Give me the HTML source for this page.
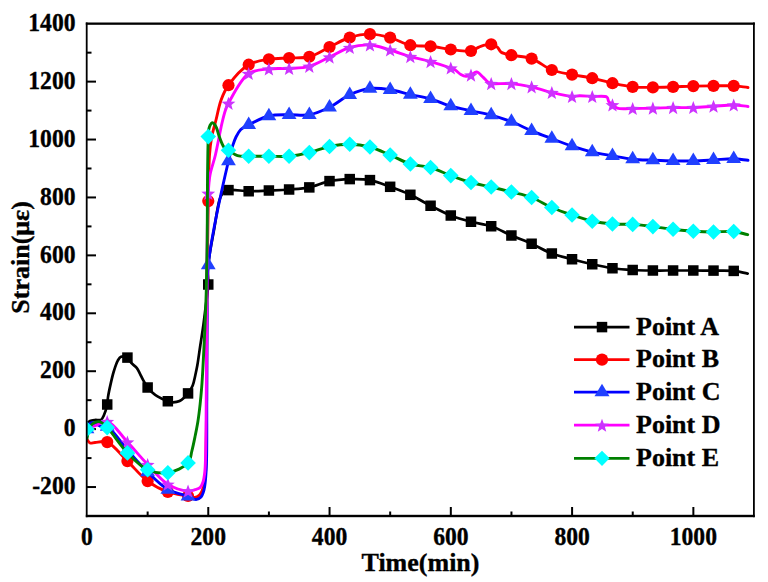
<!DOCTYPE html>
<html><head><meta charset="utf-8"><style>
html,body{margin:0;padding:0;background:#fff;}
body{width:768px;height:582px;overflow:hidden;}
svg{display:block;}
text{font-family:"Liberation Serif",serif;font-weight:bold;fill:#000;stroke:#000;stroke-width:0.35px;}
.tl{font-size:23.6px;}
.lg{font-size:26px;}
.at{font-size:26px;}
</style></head><body>
<svg width="768" height="582" viewBox="0 0 768 582">
<defs><clipPath id="pc"><rect x="86.70" y="23.70" width="667.30" height="492.30"/></clipPath></defs>
<line x1="87.00" y1="487.04" x2="96.00" y2="487.04" stroke="#000" stroke-width="2"/>
<line x1="87.00" y1="458.08" x2="91.50" y2="458.08" stroke="#000" stroke-width="2"/>
<line x1="87.00" y1="429.12" x2="96.00" y2="429.12" stroke="#000" stroke-width="2"/>
<line x1="87.00" y1="400.16" x2="91.50" y2="400.16" stroke="#000" stroke-width="2"/>
<line x1="87.00" y1="371.21" x2="96.00" y2="371.21" stroke="#000" stroke-width="2"/>
<line x1="87.00" y1="342.25" x2="91.50" y2="342.25" stroke="#000" stroke-width="2"/>
<line x1="87.00" y1="313.29" x2="96.00" y2="313.29" stroke="#000" stroke-width="2"/>
<line x1="87.00" y1="284.33" x2="91.50" y2="284.33" stroke="#000" stroke-width="2"/>
<line x1="87.00" y1="255.37" x2="96.00" y2="255.37" stroke="#000" stroke-width="2"/>
<line x1="87.00" y1="226.41" x2="91.50" y2="226.41" stroke="#000" stroke-width="2"/>
<line x1="87.00" y1="197.45" x2="96.00" y2="197.45" stroke="#000" stroke-width="2"/>
<line x1="87.00" y1="168.49" x2="91.50" y2="168.49" stroke="#000" stroke-width="2"/>
<line x1="87.00" y1="139.54" x2="96.00" y2="139.54" stroke="#000" stroke-width="2"/>
<line x1="87.00" y1="110.58" x2="91.50" y2="110.58" stroke="#000" stroke-width="2"/>
<line x1="87.00" y1="81.62" x2="96.00" y2="81.62" stroke="#000" stroke-width="2"/>
<line x1="87.00" y1="52.66" x2="91.50" y2="52.66" stroke="#000" stroke-width="2"/>
<line x1="147.64" y1="516.00" x2="147.64" y2="511.50" stroke="#000" stroke-width="2"/>
<line x1="208.27" y1="516.00" x2="208.27" y2="507.00" stroke="#000" stroke-width="2"/>
<line x1="268.91" y1="516.00" x2="268.91" y2="511.50" stroke="#000" stroke-width="2"/>
<line x1="329.55" y1="516.00" x2="329.55" y2="507.00" stroke="#000" stroke-width="2"/>
<line x1="390.18" y1="516.00" x2="390.18" y2="511.50" stroke="#000" stroke-width="2"/>
<line x1="450.82" y1="516.00" x2="450.82" y2="507.00" stroke="#000" stroke-width="2"/>
<line x1="511.45" y1="516.00" x2="511.45" y2="511.50" stroke="#000" stroke-width="2"/>
<line x1="572.09" y1="516.00" x2="572.09" y2="507.00" stroke="#000" stroke-width="2"/>
<line x1="632.73" y1="516.00" x2="632.73" y2="511.50" stroke="#000" stroke-width="2"/>
<line x1="693.36" y1="516.00" x2="693.36" y2="507.00" stroke="#000" stroke-width="2"/>
<g clip-path="url(#pc)">
<path d="M87.00,423.50 C88.00,422.67 88.79,421.58 90.00,421.00 C91.39,420.34 93.25,420.20 95.00,420.00 C96.90,419.78 99.49,420.67 101.00,419.80 C102.46,418.96 103.10,416.98 104.00,415.00 C105.26,412.24 106.55,407.72 107.21,404.50 C107.75,401.85 107.57,399.90 108.00,397.10 C108.57,393.36 109.62,388.43 110.60,384.10 C111.59,379.73 112.62,375.08 113.90,371.00 C115.06,367.30 116.33,363.15 117.80,360.60 C118.79,358.88 119.55,357.27 121.00,356.70 C122.65,356.06 125.69,356.56 127.42,357.60 C129.21,358.68 129.95,361.50 131.50,363.20 C133.05,364.90 135.29,366.04 136.70,367.80 C138.08,369.52 138.85,371.59 139.90,373.60 C141.01,375.72 141.97,377.97 143.20,380.20 C144.52,382.60 146.01,385.37 147.63,387.50 C149.08,389.41 150.63,391.00 152.30,392.50 C153.93,393.96 155.39,395.13 157.50,396.40 C160.29,398.08 164.92,400.29 167.84,401.25 C169.84,401.91 171.25,402.30 173.10,402.30 C175.15,402.30 177.44,402.08 179.60,401.00 C182.43,399.58 185.81,396.14 188.05,393.40 C190.06,390.94 191.51,388.40 192.70,385.50 C193.98,382.38 194.52,378.58 195.30,375.20 C196.05,371.95 196.63,369.35 197.30,365.60 C198.23,360.37 199.15,353.00 200.10,346.70 C201.05,340.40 202.12,334.11 203.00,327.80 C203.88,321.51 204.58,315.60 205.40,308.90 C206.33,301.29 207.93,291.59 208.26,284.50 C208.51,279.05 207.70,274.87 207.90,270.00 C208.10,265.04 208.70,260.62 209.50,255.00 C210.54,247.71 212.42,238.71 214.00,230.00 C215.73,220.45 217.51,206.28 219.50,200.00 C220.46,196.96 220.98,195.16 222.50,193.50 C223.99,191.88 225.77,190.73 228.47,190.10 C233.11,189.01 241.94,191.18 248.68,191.25 C255.42,191.32 262.15,190.79 268.89,190.50 C275.63,190.21 282.37,190.02 289.10,189.50 C295.84,188.98 302.64,188.77 309.31,187.40 C316.12,186.00 322.71,182.48 329.52,181.10 C336.19,179.75 342.99,179.27 349.73,179.10 C356.46,178.93 363.29,178.86 369.94,180.10 C376.76,181.38 383.45,184.36 390.15,186.80 C396.92,189.26 403.71,191.70 410.36,194.80 C417.19,197.99 423.79,202.28 430.57,205.75 C437.27,209.18 443.94,212.81 450.78,215.50 C457.42,218.11 464.22,219.95 470.99,221.75 C477.69,223.53 484.58,224.03 491.20,226.25 C498.06,228.56 504.64,232.57 511.41,235.50 C518.12,238.40 524.93,240.77 531.62,243.75 C538.40,246.77 544.98,250.90 551.83,253.50 C558.46,256.02 565.29,257.45 572.04,259.25 C578.76,261.04 585.50,262.75 592.25,264.25 C598.97,265.75 605.70,267.29 612.46,268.25 C619.17,269.20 625.93,269.63 632.67,270.00 C639.40,270.37 646.14,270.42 652.88,270.50 C659.62,270.58 666.35,270.50 673.09,270.50 C679.83,270.50 686.56,270.48 693.30,270.50 C700.04,270.52 706.77,270.53 713.51,270.60 C720.25,270.67 727.63,270.27 733.72,270.90 C738.83,271.43 743.04,272.70 747.70,273.60" fill="none" stroke="#000000" stroke-width="2.70" stroke-linejoin="round" stroke-linecap="round"/>
<rect x="101.96" y="399.25" width="10.50" height="10.50" fill="#000"/>
<rect x="122.17" y="352.35" width="10.50" height="10.50" fill="#000"/>
<rect x="142.38" y="382.25" width="10.50" height="10.50" fill="#000"/>
<rect x="162.59" y="396.00" width="10.50" height="10.50" fill="#000"/>
<rect x="182.80" y="388.15" width="10.50" height="10.50" fill="#000"/>
<rect x="203.01" y="279.25" width="10.50" height="10.50" fill="#000"/>
<rect x="223.22" y="184.85" width="10.50" height="10.50" fill="#000"/>
<rect x="243.43" y="186.00" width="10.50" height="10.50" fill="#000"/>
<rect x="263.64" y="185.25" width="10.50" height="10.50" fill="#000"/>
<rect x="283.85" y="184.25" width="10.50" height="10.50" fill="#000"/>
<rect x="304.06" y="182.15" width="10.50" height="10.50" fill="#000"/>
<rect x="324.27" y="175.85" width="10.50" height="10.50" fill="#000"/>
<rect x="344.48" y="173.85" width="10.50" height="10.50" fill="#000"/>
<rect x="364.69" y="174.85" width="10.50" height="10.50" fill="#000"/>
<rect x="384.90" y="181.55" width="10.50" height="10.50" fill="#000"/>
<rect x="405.11" y="189.55" width="10.50" height="10.50" fill="#000"/>
<rect x="425.32" y="200.50" width="10.50" height="10.50" fill="#000"/>
<rect x="445.53" y="210.25" width="10.50" height="10.50" fill="#000"/>
<rect x="465.74" y="216.50" width="10.50" height="10.50" fill="#000"/>
<rect x="485.95" y="221.00" width="10.50" height="10.50" fill="#000"/>
<rect x="506.16" y="230.25" width="10.50" height="10.50" fill="#000"/>
<rect x="526.37" y="238.50" width="10.50" height="10.50" fill="#000"/>
<rect x="546.58" y="248.25" width="10.50" height="10.50" fill="#000"/>
<rect x="566.79" y="254.00" width="10.50" height="10.50" fill="#000"/>
<rect x="587.00" y="259.00" width="10.50" height="10.50" fill="#000"/>
<rect x="607.21" y="263.00" width="10.50" height="10.50" fill="#000"/>
<rect x="627.42" y="264.75" width="10.50" height="10.50" fill="#000"/>
<rect x="647.63" y="265.25" width="10.50" height="10.50" fill="#000"/>
<rect x="667.84" y="265.25" width="10.50" height="10.50" fill="#000"/>
<rect x="688.05" y="265.25" width="10.50" height="10.50" fill="#000"/>
<rect x="708.26" y="265.35" width="10.50" height="10.50" fill="#000"/>
<rect x="728.47" y="265.65" width="10.50" height="10.50" fill="#000"/>
<path d="M87.00,439.50 C88.00,440.67 88.71,442.48 90.00,443.00 C91.35,443.54 92.96,442.63 95.00,442.50 C98.17,442.29 102.98,440.50 107.21,442.10 C113.58,444.51 120.72,454.64 127.42,461.10 C134.20,467.64 140.49,475.82 147.63,481.10 C154.04,485.85 160.91,489.51 167.84,492.00 C174.40,494.36 183.07,494.97 188.05,496.00 C190.97,496.60 192.93,497.84 195.00,497.50 C196.87,497.19 198.65,496.00 200.00,494.50 C201.61,492.71 202.63,489.81 203.50,487.00 C204.50,483.74 204.85,480.74 205.30,476.00 C206.10,467.48 205.98,452.32 206.20,440.00 C206.43,427.02 206.49,416.34 206.60,400.00 C206.78,374.17 206.72,333.24 207.00,300.00 C207.28,266.94 207.73,227.85 208.26,201.10 C208.62,182.83 208.66,166.60 209.50,155.00 C210.01,147.93 210.45,143.71 211.50,138.00 C212.59,132.05 214.45,126.16 216.00,120.00 C217.64,113.51 218.85,106.06 221.10,100.00 C223.11,94.58 224.87,90.24 228.47,85.20 C233.22,78.55 241.32,68.99 248.68,64.70 C254.96,61.04 262.10,60.36 268.89,59.25 C275.57,58.15 282.36,58.42 289.10,58.00 C295.84,57.58 302.74,58.47 309.31,56.75 C316.23,54.94 322.78,50.21 329.52,47.00 C336.25,43.80 342.84,39.64 349.73,37.50 C356.33,35.45 363.20,34.13 369.94,34.15 C376.68,34.17 383.50,35.80 390.15,37.60 C396.98,39.45 403.51,43.76 410.36,45.20 C416.99,46.59 423.85,45.59 430.57,46.30 C437.33,47.02 444.03,48.72 450.78,49.50 C457.50,50.28 465.88,51.98 470.99,51.00 C474.38,50.35 476.58,48.12 479.00,47.10 C480.92,46.29 482.39,45.66 484.30,45.20 C486.42,44.69 489.02,43.97 491.20,44.30 C493.35,44.62 495.63,45.75 497.30,47.10 C498.95,48.43 499.30,51.00 501.20,52.30 C503.63,53.97 507.40,54.30 511.41,55.20 C516.98,56.46 525.08,56.29 531.62,58.60 C538.58,61.06 544.89,67.32 551.83,70.00 C558.39,72.53 565.29,73.23 572.04,74.60 C578.76,75.96 585.54,76.77 592.25,78.20 C599.01,79.64 605.70,81.75 612.46,83.20 C619.17,84.64 625.91,86.20 632.67,86.90 C639.38,87.59 646.14,87.40 652.88,87.40 C659.62,87.40 666.35,87.12 673.09,86.90 C679.83,86.68 686.56,86.27 693.30,86.10 C700.04,85.93 706.77,85.93 713.51,85.90 C720.25,85.87 727.58,85.56 733.72,85.90 C738.90,86.19 743.24,86.97 748.00,87.50" fill="none" stroke="#ff0000" stroke-width="2.90" stroke-linejoin="round" stroke-linecap="round"/>
<circle cx="107.21" cy="442.10" r="6.10" fill="#f00"/>
<circle cx="127.42" cy="461.10" r="6.10" fill="#f00"/>
<circle cx="147.63" cy="481.10" r="6.10" fill="#f00"/>
<circle cx="167.84" cy="492.00" r="6.10" fill="#f00"/>
<circle cx="188.05" cy="496.00" r="6.10" fill="#f00"/>
<circle cx="208.26" cy="201.10" r="6.10" fill="#f00"/>
<circle cx="228.47" cy="85.20" r="6.10" fill="#f00"/>
<circle cx="248.68" cy="64.70" r="6.10" fill="#f00"/>
<circle cx="268.89" cy="59.25" r="6.10" fill="#f00"/>
<circle cx="289.10" cy="58.00" r="6.10" fill="#f00"/>
<circle cx="309.31" cy="56.75" r="6.10" fill="#f00"/>
<circle cx="329.52" cy="47.00" r="6.10" fill="#f00"/>
<circle cx="349.73" cy="37.50" r="6.10" fill="#f00"/>
<circle cx="369.94" cy="34.15" r="6.10" fill="#f00"/>
<circle cx="390.15" cy="37.60" r="6.10" fill="#f00"/>
<circle cx="410.36" cy="45.20" r="6.10" fill="#f00"/>
<circle cx="430.57" cy="46.30" r="6.10" fill="#f00"/>
<circle cx="450.78" cy="49.50" r="6.10" fill="#f00"/>
<circle cx="470.99" cy="51.00" r="6.10" fill="#f00"/>
<circle cx="491.20" cy="44.30" r="6.10" fill="#f00"/>
<circle cx="511.41" cy="55.20" r="6.10" fill="#f00"/>
<circle cx="531.62" cy="58.60" r="6.10" fill="#f00"/>
<circle cx="551.83" cy="70.00" r="6.10" fill="#f00"/>
<circle cx="572.04" cy="74.60" r="6.10" fill="#f00"/>
<circle cx="592.25" cy="78.20" r="6.10" fill="#f00"/>
<circle cx="612.46" cy="83.20" r="6.10" fill="#f00"/>
<circle cx="632.67" cy="86.90" r="6.10" fill="#f00"/>
<circle cx="652.88" cy="87.40" r="6.10" fill="#f00"/>
<circle cx="673.09" cy="86.90" r="6.10" fill="#f00"/>
<circle cx="693.30" cy="86.10" r="6.10" fill="#f00"/>
<circle cx="713.51" cy="85.90" r="6.10" fill="#f00"/>
<circle cx="733.72" cy="85.90" r="6.10" fill="#f00"/>
<path d="M87.00,429.00 C87.83,427.33 88.46,425.02 89.50,424.00 C90.23,423.28 91.05,422.87 92.00,422.80 C93.16,422.71 94.69,423.48 96.00,424.00 C97.36,424.54 98.42,425.57 100.00,426.00 C102.01,426.55 104.53,425.16 107.21,426.50 C112.76,429.28 120.62,442.35 127.42,450.00 C134.10,457.51 140.70,465.27 147.63,472.00 C154.19,478.37 160.68,485.41 167.84,489.50 C174.24,493.16 182.88,494.39 188.05,496.30 C191.33,497.51 193.67,499.59 196.00,499.50 C197.88,499.42 199.71,498.37 201.00,497.00 C202.51,495.40 203.21,493.01 204.00,490.00 C205.29,485.11 205.69,478.71 206.20,470.00 C207.16,453.76 206.65,424.11 206.80,400.00 C206.96,374.22 206.80,344.17 207.10,320.00 C207.35,299.95 206.00,286.12 208.26,265.00 C211.39,235.69 224.01,180.04 228.47,161.00 C230.18,153.70 231.19,150.34 232.60,146.00 C233.71,142.59 234.60,139.80 236.00,137.00 C237.35,134.31 238.71,131.53 240.80,129.50 C242.92,127.43 245.38,126.45 248.68,124.75 C253.79,122.12 262.01,117.65 268.89,116.00 C275.49,114.42 282.36,114.96 289.10,114.75 C295.83,114.54 302.68,115.94 309.31,114.75 C316.16,113.52 322.94,110.47 329.52,107.25 C336.43,103.87 342.79,97.91 349.73,94.75 C356.28,91.77 363.13,89.32 369.94,88.50 C376.60,87.70 383.46,88.76 390.15,89.75 C396.93,90.76 403.61,93.04 410.36,94.55 C417.09,96.06 423.90,96.90 430.57,98.80 C437.37,100.73 443.98,104.09 450.78,106.10 C457.46,108.08 464.25,109.31 470.99,110.80 C477.72,112.29 484.51,113.25 491.20,115.05 C497.99,116.87 504.74,119.11 511.41,121.70 C518.22,124.34 524.85,127.96 531.62,130.80 C538.32,133.61 545.08,136.08 551.83,138.65 C558.56,141.21 565.26,143.96 572.04,146.20 C578.73,148.42 585.47,150.44 592.25,152.05 C598.95,153.64 605.72,154.61 612.46,155.80 C619.19,156.99 625.91,158.47 632.67,159.20 C639.39,159.93 646.14,159.92 652.88,160.20 C659.62,160.48 666.35,160.78 673.09,160.90 C679.83,161.02 686.57,161.06 693.30,160.90 C700.04,160.74 706.77,160.30 713.51,159.95 C720.25,159.60 727.57,158.65 733.72,158.80 C738.90,158.92 743.24,159.80 748.00,160.30" fill="none" stroke="#0000ff" stroke-width="2.90" stroke-linejoin="round" stroke-linecap="round"/>
<polygon points="87.00,420.67 79.60,433.17 94.40,433.17" fill="#2040ff"/>
<polygon points="107.21,418.17 99.81,430.67 114.61,430.67" fill="#2040ff"/>
<polygon points="127.42,441.67 120.02,454.17 134.82,454.17" fill="#2040ff"/>
<polygon points="147.63,463.67 140.23,476.17 155.03,476.17" fill="#2040ff"/>
<polygon points="167.84,481.17 160.44,493.67 175.24,493.67" fill="#2040ff"/>
<polygon points="188.05,487.97 180.65,500.47 195.45,500.47" fill="#2040ff"/>
<polygon points="208.26,256.67 200.86,269.17 215.66,269.17" fill="#2040ff"/>
<polygon points="228.47,152.67 221.07,165.17 235.87,165.17" fill="#2040ff"/>
<polygon points="248.68,116.42 241.28,128.92 256.08,128.92" fill="#2040ff"/>
<polygon points="268.89,107.67 261.49,120.17 276.29,120.17" fill="#2040ff"/>
<polygon points="289.10,106.42 281.70,118.92 296.50,118.92" fill="#2040ff"/>
<polygon points="309.31,106.42 301.91,118.92 316.71,118.92" fill="#2040ff"/>
<polygon points="329.52,98.92 322.12,111.42 336.92,111.42" fill="#2040ff"/>
<polygon points="349.73,86.42 342.33,98.92 357.13,98.92" fill="#2040ff"/>
<polygon points="369.94,80.17 362.54,92.67 377.34,92.67" fill="#2040ff"/>
<polygon points="390.15,81.42 382.75,93.92 397.55,93.92" fill="#2040ff"/>
<polygon points="410.36,86.22 402.96,98.72 417.76,98.72" fill="#2040ff"/>
<polygon points="430.57,90.47 423.17,102.97 437.97,102.97" fill="#2040ff"/>
<polygon points="450.78,97.77 443.38,110.27 458.18,110.27" fill="#2040ff"/>
<polygon points="470.99,102.47 463.59,114.97 478.39,114.97" fill="#2040ff"/>
<polygon points="491.20,106.72 483.80,119.22 498.60,119.22" fill="#2040ff"/>
<polygon points="511.41,113.37 504.01,125.87 518.81,125.87" fill="#2040ff"/>
<polygon points="531.62,122.47 524.22,134.97 539.02,134.97" fill="#2040ff"/>
<polygon points="551.83,130.32 544.43,142.82 559.23,142.82" fill="#2040ff"/>
<polygon points="572.04,137.87 564.64,150.37 579.44,150.37" fill="#2040ff"/>
<polygon points="592.25,143.72 584.85,156.22 599.65,156.22" fill="#2040ff"/>
<polygon points="612.46,147.47 605.06,159.97 619.86,159.97" fill="#2040ff"/>
<polygon points="632.67,150.87 625.27,163.37 640.07,163.37" fill="#2040ff"/>
<polygon points="652.88,151.87 645.48,164.37 660.28,164.37" fill="#2040ff"/>
<polygon points="673.09,152.57 665.69,165.07 680.49,165.07" fill="#2040ff"/>
<polygon points="693.30,152.57 685.90,165.07 700.70,165.07" fill="#2040ff"/>
<polygon points="713.51,151.62 706.11,164.12 720.91,164.12" fill="#2040ff"/>
<polygon points="733.72,150.47 726.32,162.97 741.12,162.97" fill="#2040ff"/>
<path d="M87.00,427.00 C89.43,426.67 91.56,426.66 94.30,426.00 C98.03,425.10 102.77,420.47 107.21,421.50 C113.66,423.00 120.76,434.93 127.42,442.00 C134.24,449.25 140.77,457.36 147.63,464.50 C154.25,471.40 160.56,479.75 167.84,484.20 C174.17,488.07 183.04,490.68 188.05,491.00 C190.94,491.18 192.90,490.23 195.00,489.60 C196.83,489.05 198.69,488.77 200.00,487.60 C201.42,486.33 202.23,484.21 203.00,482.00 C203.97,479.21 204.37,475.79 204.80,472.00 C205.35,467.10 205.40,461.68 205.60,455.00 C205.89,445.42 205.96,434.04 206.10,420.00 C206.32,398.77 206.45,366.67 206.60,340.00 C206.75,313.33 206.70,285.44 207.00,260.00 C207.28,236.78 207.39,208.69 208.26,193.40 C208.72,185.35 208.88,181.21 210.00,175.00 C211.19,168.42 213.62,162.48 215.40,155.00 C217.63,145.61 220.03,131.28 222.00,123.00 C223.26,117.68 224.23,113.58 225.50,110.00 C226.44,107.36 226.84,106.23 228.47,103.30 C232.08,96.80 240.72,78.92 248.68,73.50 C254.71,69.39 262.11,69.79 268.89,68.95 C275.59,68.12 282.37,68.88 289.10,68.45 C295.85,68.02 302.72,68.15 309.31,66.35 C316.20,64.47 322.79,60.24 329.52,57.10 C336.27,53.95 342.83,49.51 349.73,47.50 C356.32,45.58 363.24,44.60 369.94,45.00 C376.71,45.41 383.45,48.08 390.15,50.00 C396.92,51.94 403.59,54.66 410.36,56.60 C417.06,58.52 423.86,59.71 430.57,61.60 C437.34,63.51 446.82,66.64 450.78,68.00 C452.45,68.57 453.01,68.57 454.30,69.30 C456.22,70.38 458.66,73.29 460.80,74.50 C462.55,75.48 464.27,76.32 466.00,76.40 C467.67,76.48 469.33,75.78 470.99,75.10 C472.83,74.34 474.64,71.76 476.50,71.90 C478.63,72.06 481.00,75.31 483.00,77.10 C484.88,78.78 486.61,81.22 488.20,82.30 C489.26,83.02 489.71,83.29 491.20,83.60 C494.91,84.37 504.69,83.07 511.41,83.60 C518.17,84.13 524.93,85.33 531.62,86.80 C538.40,88.29 545.06,90.88 551.83,92.50 C558.53,94.11 566.93,96.24 572.04,96.50 C575.12,96.66 576.68,95.85 579.50,95.80 C583.18,95.73 587.85,96.29 592.25,96.50 C596.96,96.73 604.42,95.36 606.90,97.10 C608.35,98.11 607.86,100.40 608.80,101.70 C609.72,102.99 611.12,103.86 612.46,104.90 C613.93,106.04 615.39,107.53 617.30,108.20 C619.51,108.97 622.52,108.75 625.10,108.80 C627.64,108.85 629.54,108.59 632.67,108.50 C637.78,108.36 646.14,108.35 652.88,108.20 C659.62,108.05 666.35,107.72 673.09,107.60 C679.83,107.48 686.57,107.72 693.30,107.50 C700.04,107.28 706.77,106.67 713.51,106.25 C720.25,105.83 727.57,104.87 733.72,105.00 C738.90,105.11 743.24,106.00 748.00,106.50" fill="none" stroke="#ff00ff" stroke-width="2.90" stroke-linejoin="round" stroke-linecap="round"/>
<polygon points="107.21,414.89 109.01,419.71 114.15,419.94 110.13,423.14 111.50,428.10 107.21,425.26 102.92,428.10 104.29,423.14 100.27,419.94 105.41,419.71" fill="#cc33ff"/>
<polygon points="127.42,435.39 129.22,440.21 134.36,440.44 130.34,443.64 131.71,448.60 127.42,445.76 123.13,448.60 124.50,443.64 120.48,440.44 125.62,440.21" fill="#cc33ff"/>
<polygon points="147.63,457.89 149.43,462.71 154.57,462.94 150.55,466.14 151.92,471.10 147.63,468.26 143.34,471.10 144.71,466.14 140.69,462.94 145.83,462.71" fill="#cc33ff"/>
<polygon points="167.84,477.59 169.64,482.41 174.78,482.64 170.76,485.84 172.13,490.80 167.84,487.96 163.55,490.80 164.92,485.84 160.90,482.64 166.04,482.41" fill="#cc33ff"/>
<polygon points="188.05,484.39 189.85,489.21 194.99,489.44 190.97,492.64 192.34,497.60 188.05,494.76 183.76,497.60 185.13,492.64 181.11,489.44 186.25,489.21" fill="#cc33ff"/>
<polygon points="208.26,186.79 210.06,191.61 215.20,191.84 211.18,195.04 212.55,200.00 208.26,197.16 203.97,200.00 205.34,195.04 201.32,191.84 206.46,191.61" fill="#cc33ff"/>
<polygon points="228.47,96.69 230.27,101.51 235.41,101.74 231.39,104.94 232.76,109.90 228.47,107.06 224.18,109.90 225.55,104.94 221.53,101.74 226.67,101.51" fill="#cc33ff"/>
<polygon points="248.68,66.89 250.48,71.71 255.62,71.94 251.60,75.14 252.97,80.10 248.68,77.26 244.39,80.10 245.76,75.14 241.74,71.94 246.88,71.71" fill="#cc33ff"/>
<polygon points="268.89,62.34 270.69,67.16 275.83,67.39 271.81,70.59 273.18,75.55 268.89,72.71 264.60,75.55 265.97,70.59 261.95,67.39 267.09,67.16" fill="#cc33ff"/>
<polygon points="289.10,61.84 290.90,66.66 296.04,66.89 292.02,70.09 293.39,75.05 289.10,72.21 284.81,75.05 286.18,70.09 282.16,66.89 287.30,66.66" fill="#cc33ff"/>
<polygon points="309.31,59.74 311.11,64.56 316.25,64.79 312.23,67.99 313.60,72.95 309.31,70.11 305.02,72.95 306.39,67.99 302.37,64.79 307.51,64.56" fill="#cc33ff"/>
<polygon points="329.52,50.49 331.32,55.31 336.46,55.54 332.44,58.74 333.81,63.70 329.52,60.86 325.23,63.70 326.60,58.74 322.58,55.54 327.72,55.31" fill="#cc33ff"/>
<polygon points="349.73,40.89 351.53,45.71 356.67,45.94 352.65,49.14 354.02,54.10 349.73,51.26 345.44,54.10 346.81,49.14 342.79,45.94 347.93,45.71" fill="#cc33ff"/>
<polygon points="369.94,38.39 371.74,43.21 376.88,43.44 372.86,46.64 374.23,51.60 369.94,48.76 365.65,51.60 367.02,46.64 363.00,43.44 368.14,43.21" fill="#cc33ff"/>
<polygon points="390.15,43.39 391.95,48.21 397.09,48.44 393.07,51.64 394.44,56.60 390.15,53.76 385.86,56.60 387.23,51.64 383.21,48.44 388.35,48.21" fill="#cc33ff"/>
<polygon points="410.36,49.99 412.16,54.81 417.30,55.04 413.28,58.24 414.65,63.20 410.36,60.36 406.07,63.20 407.44,58.24 403.42,55.04 408.56,54.81" fill="#cc33ff"/>
<polygon points="430.57,54.99 432.37,59.81 437.51,60.04 433.49,63.24 434.86,68.20 430.57,65.36 426.28,68.20 427.65,63.24 423.63,60.04 428.77,59.81" fill="#cc33ff"/>
<polygon points="450.78,61.39 452.58,66.21 457.72,66.44 453.70,69.64 455.07,74.60 450.78,71.76 446.49,74.60 447.86,69.64 443.84,66.44 448.98,66.21" fill="#cc33ff"/>
<polygon points="470.99,68.49 472.79,73.31 477.93,73.54 473.91,76.74 475.28,81.70 470.99,78.86 466.70,81.70 468.07,76.74 464.05,73.54 469.19,73.31" fill="#cc33ff"/>
<polygon points="491.20,76.99 493.00,81.81 498.14,82.04 494.12,85.24 495.49,90.20 491.20,87.36 486.91,90.20 488.28,85.24 484.26,82.04 489.40,81.81" fill="#cc33ff"/>
<polygon points="511.41,76.99 513.21,81.81 518.35,82.04 514.33,85.24 515.70,90.20 511.41,87.36 507.12,90.20 508.49,85.24 504.47,82.04 509.61,81.81" fill="#cc33ff"/>
<polygon points="531.62,80.19 533.42,85.01 538.56,85.24 534.54,88.44 535.91,93.40 531.62,90.56 527.33,93.40 528.70,88.44 524.68,85.24 529.82,85.01" fill="#cc33ff"/>
<polygon points="551.83,85.89 553.63,90.71 558.77,90.94 554.75,94.14 556.12,99.10 551.83,96.26 547.54,99.10 548.91,94.14 544.89,90.94 550.03,90.71" fill="#cc33ff"/>
<polygon points="572.04,89.89 573.84,94.71 578.98,94.94 574.96,98.14 576.33,103.10 572.04,100.26 567.75,103.10 569.12,98.14 565.10,94.94 570.24,94.71" fill="#cc33ff"/>
<polygon points="592.25,89.89 594.05,94.71 599.19,94.94 595.17,98.14 596.54,103.10 592.25,100.26 587.96,103.10 589.33,98.14 585.31,94.94 590.45,94.71" fill="#cc33ff"/>
<polygon points="612.46,98.29 614.26,103.11 619.40,103.34 615.38,106.54 616.75,111.50 612.46,108.66 608.17,111.50 609.54,106.54 605.52,103.34 610.66,103.11" fill="#cc33ff"/>
<polygon points="632.67,101.89 634.47,106.71 639.61,106.94 635.59,110.14 636.96,115.10 632.67,112.26 628.38,115.10 629.75,110.14 625.73,106.94 630.87,106.71" fill="#cc33ff"/>
<polygon points="652.88,101.59 654.68,106.41 659.82,106.64 655.80,109.84 657.17,114.80 652.88,111.96 648.59,114.80 649.96,109.84 645.94,106.64 651.08,106.41" fill="#cc33ff"/>
<polygon points="673.09,100.99 674.89,105.81 680.03,106.04 676.01,109.24 677.38,114.20 673.09,111.36 668.80,114.20 670.17,109.24 666.15,106.04 671.29,105.81" fill="#cc33ff"/>
<polygon points="693.30,100.89 695.10,105.71 700.24,105.94 696.22,109.14 697.59,114.10 693.30,111.26 689.01,114.10 690.38,109.14 686.36,105.94 691.50,105.71" fill="#cc33ff"/>
<polygon points="713.51,99.64 715.31,104.46 720.45,104.69 716.43,107.89 717.80,112.85 713.51,110.01 709.22,112.85 710.59,107.89 706.57,104.69 711.71,104.46" fill="#cc33ff"/>
<polygon points="733.72,98.39 735.52,103.21 740.66,103.44 736.64,106.64 738.01,111.60 733.72,108.76 729.43,111.60 730.80,106.64 726.78,103.44 731.92,103.21" fill="#cc33ff"/>
<path d="M87.00,438.50 C87.83,435.00 88.22,430.67 89.50,428.00 C90.43,426.06 91.41,424.53 93.00,423.50 C94.79,422.34 97.77,421.30 100.00,421.80 C102.53,422.37 104.39,424.77 107.21,427.60 C112.49,432.89 120.29,445.63 127.42,452.90 C133.84,459.45 140.41,466.47 147.63,469.70 C153.99,472.55 161.26,473.71 167.84,472.70 C174.74,471.64 184.18,467.36 188.05,462.90 C190.96,459.54 190.74,455.11 191.90,450.80 C193.19,445.98 194.28,440.32 195.30,435.30 C196.26,430.57 197.13,426.36 197.90,421.50 C198.75,416.12 199.47,410.11 200.10,404.40 C200.73,398.68 201.25,392.94 201.70,387.20 C202.15,381.47 202.41,376.93 202.80,370.00 C203.40,359.44 204.22,343.34 204.80,330.00 C205.38,316.67 205.91,304.08 206.30,290.00 C206.74,274.26 207.00,257.43 207.20,240.00 C207.42,220.91 207.29,198.38 207.50,180.00 C207.68,164.36 207.92,144.72 208.26,136.60 C208.39,133.43 208.34,132.00 208.70,130.00 C209.01,128.28 209.42,126.57 210.10,125.30 C210.66,124.27 211.43,122.91 212.20,122.80 C212.91,122.70 213.83,123.59 214.50,124.30 C215.31,125.16 215.87,126.35 216.50,127.80 C217.41,129.89 218.12,133.25 219.00,135.80 C219.82,138.17 220.67,140.54 221.60,142.60 C222.42,144.39 223.01,146.22 224.20,147.50 C225.33,148.72 226.78,149.16 228.47,150.20 C230.92,151.70 234.19,154.58 237.50,155.60 C240.91,156.65 244.40,156.13 248.68,156.25 C254.42,156.42 262.15,156.25 268.89,156.25 C275.63,156.25 282.39,156.85 289.10,156.25 C295.86,155.64 302.62,154.21 309.31,152.60 C316.09,150.97 322.72,147.90 329.52,146.50 C336.20,145.12 343.00,144.12 349.73,144.20 C356.47,144.28 363.31,145.25 369.94,147.00 C376.79,148.80 383.44,152.18 390.15,155.00 C396.92,157.84 403.49,161.91 410.36,164.00 C416.97,166.01 423.93,165.62 430.57,167.50 C437.41,169.44 444.01,173.09 450.78,175.60 C457.48,178.09 464.20,180.59 470.99,182.50 C477.68,184.38 484.47,185.42 491.20,187.00 C497.95,188.59 504.68,190.25 511.41,192.00 C518.16,193.75 525.00,194.99 531.62,197.50 C538.49,200.10 545.02,204.56 551.83,207.50 C558.49,210.38 565.27,212.71 572.04,215.00 C578.74,217.27 585.45,219.70 592.25,221.20 C598.93,222.68 605.71,223.47 612.46,224.00 C619.18,224.53 625.94,223.97 632.67,224.40 C639.42,224.83 646.15,225.79 652.88,226.60 C659.62,227.41 666.35,228.48 673.09,229.25 C679.82,230.02 686.56,230.74 693.30,231.20 C700.03,231.66 706.77,231.95 713.51,232.00 C720.25,232.05 727.64,230.89 733.72,231.50 C738.84,232.01 743.04,233.63 747.70,234.70" fill="none" stroke="#008000" stroke-width="2.90" stroke-linejoin="round" stroke-linecap="round"/>
<polygon points="87.00,421.50 94.80,429.30 87.00,437.10 79.20,429.30" fill="#00ffff"/>
<polygon points="107.21,419.80 115.01,427.60 107.21,435.40 99.41,427.60" fill="#00ffff"/>
<polygon points="127.42,445.10 135.22,452.90 127.42,460.70 119.62,452.90" fill="#00ffff"/>
<polygon points="147.63,461.90 155.43,469.70 147.63,477.50 139.83,469.70" fill="#00ffff"/>
<polygon points="167.84,464.90 175.64,472.70 167.84,480.50 160.04,472.70" fill="#00ffff"/>
<polygon points="188.05,455.10 195.85,462.90 188.05,470.70 180.25,462.90" fill="#00ffff"/>
<polygon points="208.26,128.80 216.06,136.60 208.26,144.40 200.46,136.60" fill="#00ffff"/>
<polygon points="228.47,142.40 236.27,150.20 228.47,158.00 220.67,150.20" fill="#00ffff"/>
<polygon points="248.68,148.45 256.48,156.25 248.68,164.05 240.88,156.25" fill="#00ffff"/>
<polygon points="268.89,148.45 276.69,156.25 268.89,164.05 261.09,156.25" fill="#00ffff"/>
<polygon points="289.10,148.45 296.90,156.25 289.10,164.05 281.30,156.25" fill="#00ffff"/>
<polygon points="309.31,144.80 317.11,152.60 309.31,160.40 301.51,152.60" fill="#00ffff"/>
<polygon points="329.52,138.70 337.32,146.50 329.52,154.30 321.72,146.50" fill="#00ffff"/>
<polygon points="349.73,136.40 357.53,144.20 349.73,152.00 341.93,144.20" fill="#00ffff"/>
<polygon points="369.94,139.20 377.74,147.00 369.94,154.80 362.14,147.00" fill="#00ffff"/>
<polygon points="390.15,147.20 397.95,155.00 390.15,162.80 382.35,155.00" fill="#00ffff"/>
<polygon points="410.36,156.20 418.16,164.00 410.36,171.80 402.56,164.00" fill="#00ffff"/>
<polygon points="430.57,159.70 438.37,167.50 430.57,175.30 422.77,167.50" fill="#00ffff"/>
<polygon points="450.78,167.80 458.58,175.60 450.78,183.40 442.98,175.60" fill="#00ffff"/>
<polygon points="470.99,174.70 478.79,182.50 470.99,190.30 463.19,182.50" fill="#00ffff"/>
<polygon points="491.20,179.20 499.00,187.00 491.20,194.80 483.40,187.00" fill="#00ffff"/>
<polygon points="511.41,184.20 519.21,192.00 511.41,199.80 503.61,192.00" fill="#00ffff"/>
<polygon points="531.62,189.70 539.42,197.50 531.62,205.30 523.82,197.50" fill="#00ffff"/>
<polygon points="551.83,199.70 559.63,207.50 551.83,215.30 544.03,207.50" fill="#00ffff"/>
<polygon points="572.04,207.20 579.84,215.00 572.04,222.80 564.24,215.00" fill="#00ffff"/>
<polygon points="592.25,213.40 600.05,221.20 592.25,229.00 584.45,221.20" fill="#00ffff"/>
<polygon points="612.46,216.20 620.26,224.00 612.46,231.80 604.66,224.00" fill="#00ffff"/>
<polygon points="632.67,216.60 640.47,224.40 632.67,232.20 624.87,224.40" fill="#00ffff"/>
<polygon points="652.88,218.80 660.68,226.60 652.88,234.40 645.08,226.60" fill="#00ffff"/>
<polygon points="673.09,221.45 680.89,229.25 673.09,237.05 665.29,229.25" fill="#00ffff"/>
<polygon points="693.30,223.40 701.10,231.20 693.30,239.00 685.50,231.20" fill="#00ffff"/>
<polygon points="713.51,224.20 721.31,232.00 713.51,239.80 705.71,232.00" fill="#00ffff"/>
<polygon points="733.72,223.70 741.52,231.50 733.72,239.30 725.92,231.50" fill="#00ffff"/>
</g>
<rect x="85.8" y="22.5" width="1.8" height="494.7" fill="#000"/><rect x="753.0" y="22.5" width="1.8" height="494.7" fill="#000"/><rect x="85.8" y="22.5" width="669" height="2.3" fill="#000"/><rect x="85.8" y="514.8" width="669" height="2.4" fill="#000"/>
<text transform="translate(75.5,494.24) scale(1,1.05)" text-anchor="end" class="tl">-200</text>
<text transform="translate(75.5,436.32) scale(1,1.05)" text-anchor="end" class="tl">0</text>
<text transform="translate(75.5,378.41) scale(1,1.05)" text-anchor="end" class="tl">200</text>
<text transform="translate(75.5,320.49) scale(1,1.05)" text-anchor="end" class="tl">400</text>
<text transform="translate(75.5,262.57) scale(1,1.05)" text-anchor="end" class="tl">600</text>
<text transform="translate(75.5,204.65) scale(1,1.05)" text-anchor="end" class="tl">800</text>
<text transform="translate(75.5,146.74) scale(1,1.05)" text-anchor="end" class="tl">1000</text>
<text transform="translate(75.5,88.82) scale(1,1.05)" text-anchor="end" class="tl">1200</text>
<text transform="translate(75.5,30.90) scale(1,1.05)" text-anchor="end" class="tl">1400</text>
<text transform="translate(87.00,545.3) scale(1,1.05)" text-anchor="middle" class="tl">0</text>
<text transform="translate(208.27,545.3) scale(1,1.05)" text-anchor="middle" class="tl">200</text>
<text transform="translate(329.55,545.3) scale(1,1.05)" text-anchor="middle" class="tl">400</text>
<text transform="translate(450.82,545.3) scale(1,1.05)" text-anchor="middle" class="tl">600</text>
<text transform="translate(572.09,545.3) scale(1,1.05)" text-anchor="middle" class="tl">800</text>
<text transform="translate(693.36,545.3) scale(1,1.05)" text-anchor="middle" class="tl">1000</text>
<line x1="574" y1="327.10" x2="629.5" y2="327.10" stroke="#000000" stroke-width="2.70"/>
<rect x="596.75" y="321.85" width="10.50" height="10.50" fill="#000"/>
<text x="636" y="334.80" class="lg">Point A</text>
<line x1="574" y1="359.60" x2="629.5" y2="359.60" stroke="#ff0000" stroke-width="2.70"/>
<circle cx="602.00" cy="359.60" r="6.20" fill="#f00"/>
<text x="636" y="367.30" class="lg">Point B</text>
<line x1="574" y1="392.20" x2="629.5" y2="392.20" stroke="#0000ff" stroke-width="2.70"/>
<polygon points="602.00,383.87 594.50,396.37 609.50,396.37" fill="#2040ff"/>
<text x="636" y="399.90" class="lg">Point C</text>
<line x1="574" y1="425.20" x2="629.5" y2="425.20" stroke="#ff00ff" stroke-width="2.70"/>
<polygon points="602.00,418.68 603.78,423.44 608.85,423.66 604.88,426.82 606.23,431.71 602.00,428.91 597.77,431.71 599.12,426.82 595.15,423.66 600.22,423.44" fill="#cc33ff"/>
<text x="636" y="432.90" class="lg">Point D</text>
<line x1="574" y1="458.30" x2="629.5" y2="458.30" stroke="#008000" stroke-width="2.70"/>
<polygon points="602.00,450.70 609.60,458.30 602.00,465.90 594.40,458.30" fill="#00ffff"/>
<text x="636" y="466.00" class="lg">Point E</text>
<text x="420.5" y="571" text-anchor="middle" class="at">Time(min)</text>
<text transform="translate(28.8,257.4) rotate(-90)" text-anchor="middle" class="at">Strain(&#956;&#949;)</text>
</svg>
</body></html>
